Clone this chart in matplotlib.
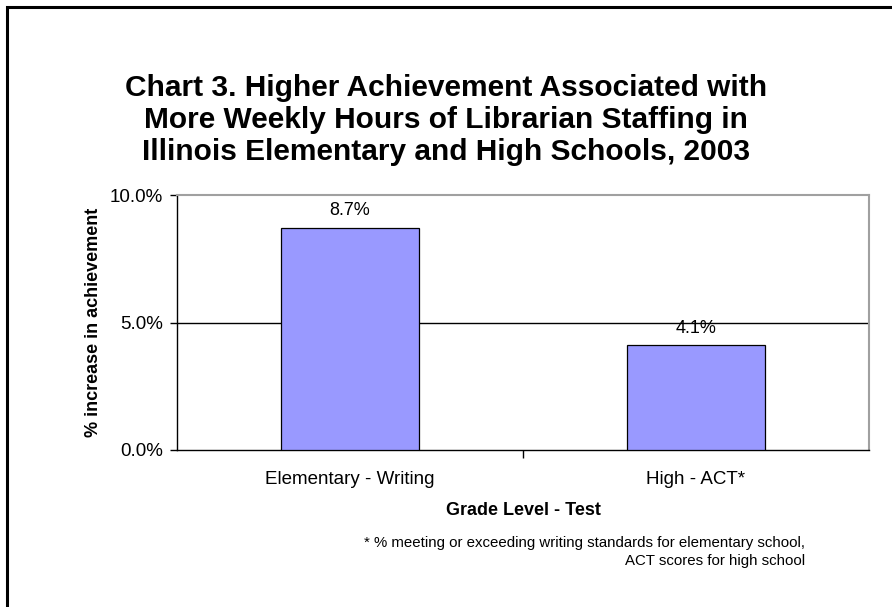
import matplotlib
matplotlib.use('Agg')
import matplotlib.pyplot as plt
from matplotlib.patches import Rectangle
from matplotlib.ticker import FuncFormatter

plt.rcParams['font.family'] = ['Liberation Sans', 'DejaVu Sans']

#data
categories = ['Elementary - Writing', 'High - ACT*']
values = [8.7, 4.1]
yticks = [0.0, 5.0, 10.0]
title = ('Chart 3. Higher Achievement Associated with\n'
         'More Weekly Hours of Librarian Staffing in\n'
         'Illinois Elementary and High Schools, 2003')
footnote = ('* % meeting or exceeding writing standards for elementary school,\n'
            'ACT scores for high school')

W, H = 892, 607
fig = plt.figure(figsize=(W/100, H/100), dpi=100)
# outer chart border
fig.patches.append(Rectangle((7/W, -0.05), 1.0, 1 - 7/H + 0.05, transform=fig.transFigure,
                             fill=False, edgecolor='black', lw=2.2))

ax = fig.add_axes([177/W, 1 - 450/H, (869-177)/W, (450-195)/H])
x = range(len(categories))
ax.bar(x, values, width=0.4, color='#9999ff', edgecolor='black', lw=0.9, zorder=3)
for xi, v in zip(x, values):
    ax.text(xi, v + 0.35, f'{v:.1f}%', ha='center', va='bottom', fontsize=13)

ax.set_xlim(-0.5, len(categories) - 0.5)
ax.set_ylim(0, 10)
ax.set_yticks(yticks)
ax.yaxis.set_major_formatter(FuncFormatter(lambda v, p: f'{v:.1f}%'))
ax.set_xticks([0.5])
ax.set_xticklabels([])
ax.set_xticks(list(x), minor=True)
ax.set_xticklabels(categories, minor=True)
ax.tick_params(axis='x', which='minor', length=0, pad=15, labelsize=13.5)
ax.tick_params(axis='x', which='major', length=6, width=1, direction='out')
ax.tick_params(axis='y', length=5, width=1, direction='out', labelsize=13.5, pad=5)
ax.axhline(5.0, color='black', lw=1, zorder=1)
for s in ['top', 'right']:
    ax.spines[s].set_color('#a0a0a0')
    ax.spines[s].set_linewidth(1.5)
for s in ['left', 'bottom']:
    ax.spines[s].set_linewidth(1.0)

ax.set_xlabel('Grade Level - Test', fontweight='bold', fontsize=13, labelpad=10)
ax.set_ylabel('% increase in achievement', fontweight='bold', fontsize=13, labelpad=6)

fig.text(446/W, 1 - 120/H, title, ha='center', va='center', fontsize=21.5,
         fontweight='bold', linespacing=1.17)
fig.text(805/W, 1 - 552/H, footnote, ha='right', va='center', fontsize=10.8,
         linespacing=1.45)

fig.savefig('out.png', dpi=100)
